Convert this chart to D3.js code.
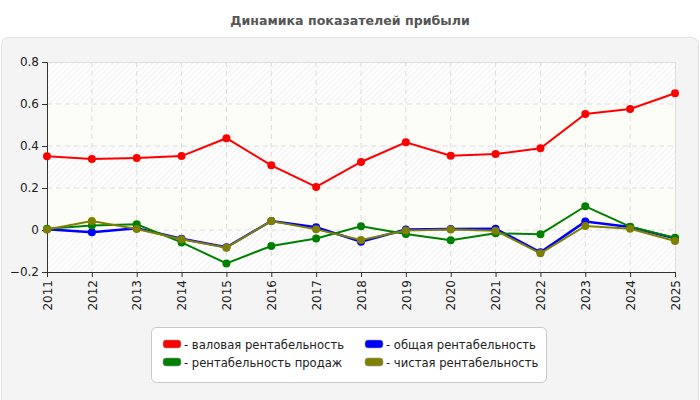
<!DOCTYPE html>
<html><head><meta charset="utf-8">
<script src="https://cdn.jsdelivr.net/npm/d3@7"></script>
<style>body{margin:0;background:#fff;font-family:"DejaVu Sans",sans-serif;}</style>
</head><body><svg id="c" width="700" height="400"></svg>
<script>
const years = [2011,2012,2013,2014,2015,2016,2017,2018,2019,2020,2021,2022,2023,2024,2025];
const gross = [0.351,0.338,0.343,0.352,0.437,0.308,0.205,0.324,0.418,0.354,0.362,0.389,0.552,0.576,0.651];
const total = [0.003,-0.011,0.008,-0.042,-0.082,0.043,0.013,-0.056,0.002,0.005,0.006,-0.106,0.040,0.014,-0.040];
const sales = [0.006,0.021,0.027,-0.059,-0.159,-0.076,-0.040,0.018,-0.019,-0.049,-0.016,-0.020,0.113,0.016,-0.037];
const net   = [0.002,0.043,0.005,-0.044,-0.084,0.043,0.003,-0.048,-0.002,0.002,-0.003,-0.111,0.019,0.006,-0.052];
const seriesNames = ["валовая рентабельность","общая рентабельность","рентабельность продаж","чистая рентабельность"];
const seriesColors = ["#ff0000","#0000ff","#008000","#808000"];
const yTicks = [-0.2,0,0.2,0.4,0.6,0.8];
const seriesData = [gross,total,sales,net];

const svg = d3.select("#c");
const defs = svg.append("defs");
const pat = defs.append("pattern").attr("id","hatch").attr("patternUnits","userSpaceOnUse")
  .attr("width",4).attr("height",4).attr("patternTransform","rotate(45)");
pat.append("rect").attr("width",4).attr("height",4).attr("fill","#ffffff");
pat.append("line").attr("x1",0).attr("y1",0).attr("x2",0).attr("y2",4).attr("stroke","#e6e6e6").attr("stroke-width",1.2);

// title
svg.append("text").attr("x",350).attr("y",25).attr("text-anchor","middle")
  .attr("font-size",12.6).attr("font-weight","bold").attr("fill","#555").text("Динамика показателей прибыли");
// panel
svg.append("rect").attr("x",1.5).attr("y",37.5).attr("width",697).attr("height",370).attr("rx",7)
  .attr("fill","#f4f4f4").attr("stroke","#e0e0e0");

const L=47,R=675,T=62,B=272;
const x = d3.scaleLinear().domain([years[0],years[years.length-1]]).range([L,R]);
const y = d3.scaleLinear().domain([-0.2,0.8]).range([B,T]);

// bands
for(let i=0;i<yTicks.length-1;i++){
  const y0=yTicks[i], y1=yTicks[i+1];
  const cream = (i===1||i===3);
  svg.append("rect").attr("x",L).attr("y",y(y1)).attr("width",R-L).attr("height",y(y0)-y(y1))
    .attr("fill",cream?"#fdfdf8":"url(#hatch)");
}
// grid
svg.append("g").selectAll("line").data(yTicks.slice(1,-1)).join("line")
  .attr("x1",L).attr("x2",R).attr("y1",d=>y(d)).attr("y2",d=>y(d))
  .attr("stroke","#dcdcdc").attr("stroke-dasharray","5,4");
svg.append("g").selectAll("line").data(years.slice(1,-1)).join("line")
  .attr("y1",T).attr("y2",B).attr("x1",d=>x(d)).attr("x2",d=>x(d))
  .attr("stroke","#dcdcdc").attr("stroke-dasharray","5,4");
// border top/right
svg.append("path").attr("d",`M${L},${T+0.5}H${R+0.5}V${B}`).attr("fill","none").attr("stroke","#dddddd");

// axes
const yAxis = svg.append("g").attr("transform",`translate(${L},0)`)
  .call(d3.axisLeft(y).tickValues(yTicks).tickSize(5).tickFormat(d=>d===0?"0":d3.format(".1f")(d)));
const xAxis = svg.append("g").attr("transform",`translate(0,${B})`)
  .call(d3.axisBottom(x).tickValues(years).tickSize(5).tickFormat(d3.format("d")));
[yAxis,xAxis].forEach(a=>{
  a.select(".domain").attr("stroke","#333");
  a.selectAll(".tick line").attr("stroke","#333");
  a.selectAll("text").attr("font-size",12).attr("fill","#222").attr("font-family","DejaVu Sans, sans-serif");
});
yAxis.selectAll("text").attr("x",-8);
xAxis.selectAll("text").attr("transform","rotate(-90)").attr("text-anchor","end")
  .attr("x",-8).attr("y",0).attr("dy","0.35em");

// series
const line = d3.line().x((d,i)=>x(years[i])).y(d=>y(d));
seriesData.forEach((s,k)=>{
  svg.append("path").datum(s).attr("d",line).attr("fill","none")
    .attr("stroke",seriesColors[k]).attr("stroke-width",k===1?2.5:2);
  svg.append("g").selectAll("circle").data(s).join("circle")
    .attr("cx",(d,i)=>x(years[i])).attr("cy",d=>y(d)).attr("r",4).attr("fill",seriesColors[k]);
});

// legend
svg.append("rect").attr("x",151.5).attr("y",327.5).attr("width",395).attr("height",55).attr("rx",5)
  .attr("fill","#ffffff").attr("stroke","#c8c8c8");
const lg = svg.append("g");
seriesNames.forEach((n,k)=>{
  const col=k%2, row=Math.floor(k/2);
  const gx = col===0?163:365, gy = 340+row*18;
  lg.append("rect").attr("x",gx).attr("y",gy).attr("width",18).attr("height",8).attr("rx",3)
    .attr("fill",seriesColors[k]).attr("stroke","#999").attr("stroke-width",0.6);
  lg.append("text").attr("x",gx+21).attr("y",gy+8.5).attr("font-size",11.6).attr("fill","#222")
    .text("- "+n);
});
</script></body></html>
